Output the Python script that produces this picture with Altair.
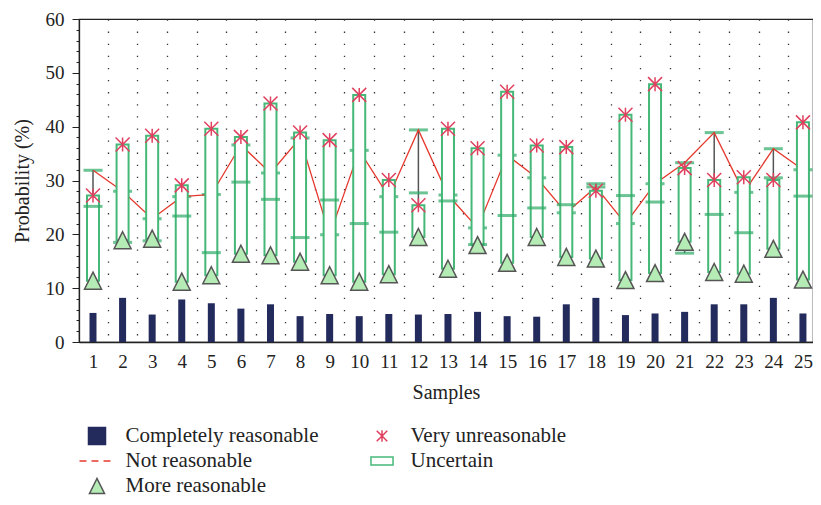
import altair as alt
import pandas as pd

samples = list(range(1, 26))
completely_reasonable = [5.4, 8.2, 5.1, 7.9, 7.2, 6.2, 7.0, 4.8, 5.2, 4.8, 5.2, 5.1, 5.2,
                         5.6, 4.8, 4.7, 7.0, 8.2, 5.0, 5.3, 5.6, 7.0, 7.0, 8.2, 5.3]
not_reasonable = [31.9, 28.0, 22.9, 27.0, 27.4, 36.6, 31.4, 37.9, 19.9, 35.6, 27.0, 39.4, 27.3,
                  21.2, 34.7, 30.5, 24.0, 28.8, 22.0, 29.4, 33.3, 38.9, 27.8, 35.9, 32.0]
more_reasonable = [11.4, 18.9, 19.2, 11.2, 12.4, 16.4, 16.1, 14.9, 12.4, 11.2, 12.6, 19.5, 13.6,
                   18.0, 14.7, 19.5, 15.8, 15.5, 11.5, 12.8, 18.6, 13.0, 12.7, 17.3, 11.6]
very_unreasonable = [27.2, 36.7, 38.3, 29.1, 39.6, 38.1, 44.3, 38.9, 37.5, 45.9, 30.1, 25.4, 39.6,
                     36.0, 46.5, 36.5, 36.2, 28.1, 42.2, 47.9, 32.3, 30.1, 30.6, 30.1, 40.8]
uncertain = [25.2, 18.5, 18.8, 23.4, 16.6, 29.7, 26.5, 19.4, 26.4, 22.0, 20.4, 27.7, 26.2,
             18.1, 23.5, 24.9, 25.5, 29.4, 27.2, 26.0, 16.5, 23.7, 20.3, 30.5, 27.1]

y_ticks = [0, 10, 20, 30, 40, 50, 60]
y_minor = [v for v in range(2, 60, 2) if v % 10 != 0]
grid_x = [s + 0.5 for s in samples]

legend_names = ["Completely reasonable", "Not reasonable", "More reasonable",
                "Very unreasonable", "Uncertain"]

df = pd.DataFrame({
    "sample": samples,
    "completely": completely_reasonable,
    "notr": not_reasonable,
    "more": more_reasonable,
    "very": very_unreasonable,
    "unc": uncertain,
})

FONT = "Liberation Serif"
NAVY = "#232a5c"
GREEN = "#2eaa66"
BOXGREEN = "#45b878"
RED = "#e5392e"
STAR = "#e0405e"
TRIFILL = "#b5ebb5"

xs = alt.Scale(domain=[0.5267, 25.34], nice=False, zero=False, padding=0)
ys = alt.Scale(domain=[0, 60], nice=False, zero=True, padding=0)

base = alt.Chart(df)

axes_layer = base.mark_point(opacity=0).encode(
    x=alt.X("sample:Q", scale=xs, axis=alt.Axis(
        orient="bottom", values=grid_x, grid=True, gridDash=[1.3, 10.8], gridColor="#333",
        gridWidth=1.3, ticks=False, labels=False, domain=False, title=None)),
    y=alt.Y("completely:Q", scale=ys, axis=alt.Axis(
        orient="left", values=y_minor, tickSize=3, tickColor="#222", labels=False,
        domain=False, grid=False, title=None)),
)

bars = base.mark_bar(size=7, color=NAVY).encode(
    x=alt.X("sample:Q", scale=xs, axis=alt.Axis(
        orient="bottom", values=samples, ticks=False, grid=False, title="Samples",
        labelFont=FONT, labelFontSize=19, labelColor="#222", labelPadding=10,
        titleFont=FONT, titleFontSize=20, titleFontWeight="normal", titleColor="#222",
        titlePadding=11, domainColor="#222", domainWidth=1.3, labelFlush=False, labelOverlap=False)),
    y=alt.Y("completely:Q", scale=ys, axis=alt.Axis(
        orient="left", values=y_ticks, tickSize=7, tickColor="#222", grid=False,
        title="Probability (%)", labelFont=FONT, labelFontSize=19, labelColor="#222",
        labelPadding=8, titleFont=FONT, titleFontSize=20, titleFontWeight="normal",
        titleColor="#222", titlePadding=13, domainColor="#222", domainWidth=1.3)),
)

hilo = base.transform_calculate(
    lo="min(datum.notr, datum.more, datum.very, datum.unc)",
    hi="max(datum.notr, datum.more, datum.very, datum.unc)",
).mark_rule(color="#555", strokeWidth=1.5).encode(
    x=alt.X("sample:Q", scale=xs, axis=None),
    y=alt.Y("lo:Q", scale=ys, axis=None),
    y2="hi:Q",
)

line_ticks = base.mark_tick(color=GREEN, thickness=3, size=19, orient="horizontal").encode(
    x=alt.X("sample:Q", scale=xs, axis=None),
    y=alt.Y("notr:Q", scale=ys, axis=None),
)

red_line = base.mark_line(color=RED, strokeWidth=1.3).encode(
    x=alt.X("sample:Q", scale=xs, axis=None),
    y=alt.Y("notr:Q", scale=ys, axis=None),
)

boxes = base.mark_bar(size=12, fill="white", stroke=BOXGREEN, strokeWidth=2).encode(
    x=alt.X("sample:Q", scale=xs, axis=None),
    y=alt.Y("more:Q", scale=ys, axis=None),
    y2="very:Q",
)

unc_ticks = base.mark_tick(color=GREEN, thickness=3, size=19, orient="horizontal").encode(
    x=alt.X("sample:Q", scale=xs, axis=None),
    y=alt.Y("unc:Q", scale=ys, axis=None),
)

TRI = "M0,-1L1,1L-1,1Z"
AST = "M0,-1L0,1M-1,-1L1,1M-1,1L1,-1"

triangles = base.mark_point(shape=TRI, size=289, filled=True, fill=TRIFILL, stroke="#555",
                            strokeWidth=1.5, opacity=1).encode(
    x=alt.X("sample:Q", scale=xs, axis=None),
    y=alt.Y("more:Q", scale=ys, axis=None),
)

stars = base.mark_point(shape=AST, size=196, filled=False, stroke=STAR,
                        strokeWidth=1.5, opacity=1).encode(
    x=alt.X("sample:Q", scale=xs, axis=None),
    y=alt.Y("very:Q", scale=ys, axis=None),
)

# legend symbols, all drawn in one 35px box
SQ_L = "M-0.486,-0.486H0.486V0.486H-0.486Z"
DASH_L = "M-1,0H1"
TRI_L = "M0,-0.43L0.43,0.43L-0.43,0.43Z"
AST_L = "M0,-0.33L0,0.33M-0.3,-0.3L0.3,0.3M-0.3,0.3L0.3,-0.3"
RECT_L = "M-0.63,-0.23H0.63V0.23H-0.63Z"

leg_df = pd.DataFrame({"series": legend_names, "sample": [1] * 5, "v": [-100] * 5})
legend_layer = alt.Chart(leg_df).transform_filter("datum.v > 0").mark_point(
    strokeWidth=1.5, opacity=1, size=1225).encode(
    x=alt.X("sample:Q", scale=xs, axis=None),
    y=alt.Y("v:Q", scale=ys, axis=None),
    fill=alt.Fill("series:N", scale=alt.Scale(
        domain=legend_names,
        range=[NAVY, "transparent", TRIFILL, "transparent", "white"]),
        legend=alt.Legend(title=None)),
    stroke=alt.Stroke("series:N", scale=alt.Scale(
        domain=legend_names, range=[NAVY, RED, "#555", STAR, BOXGREEN]),
        legend=alt.Legend(title=None)),
    shape=alt.Shape("series:N", scale=alt.Scale(
        domain=legend_names, range=[SQ_L, DASH_L, TRI_L, AST_L, RECT_L]),
        legend=alt.Legend(title=None)),
    strokeDash=alt.StrokeDash("series:N", scale=alt.Scale(
        domain=legend_names, range=[[1, 0], [7, 5], [1, 0], [1, 0], [1, 0]]),
        legend=alt.Legend(title=None)),
)

chart = alt.layer(
    axes_layer, bars, hilo, line_ticks, red_line, boxes, unc_ticks, triangles, stars, legend_layer
).resolve_axis(x="independent", y="independent").properties(
    width=734, height=323,
    autosize=alt.AutoSizeParams(type="none"),
    padding={"left": 71, "top": 11, "right": 0, "bottom": 155}
).configure_view(
    stroke="#222", strokeWidth=1.2
).configure_legend(
    orient="none", legendX=-0.5, legendY=407, columns=2, columnPadding=44, rowPadding=4,
    labelFont=FONT, labelFontSize=21, labelColor="#222", labelLimit=0, padding=0,
    symbolStrokeWidth=1.5, symbolSize=1225, labelOffset=10, clipHeight=20
)

chart.save("out.html", embed_options={"renderer": "svg", "actions": False})
